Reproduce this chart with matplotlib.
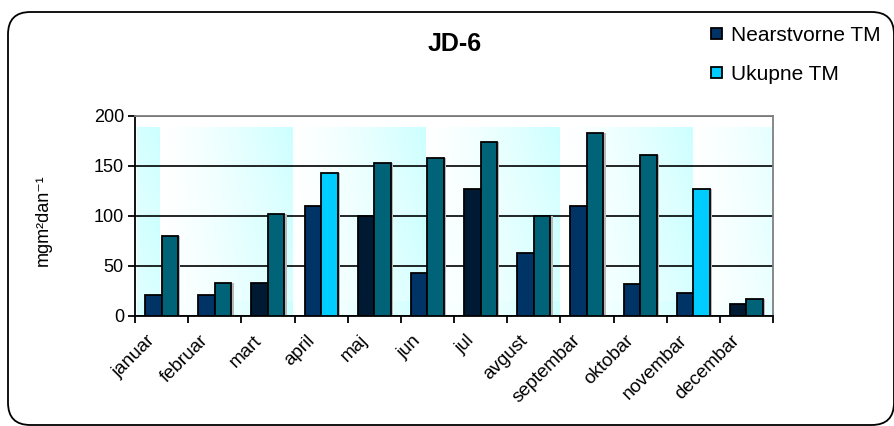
import numpy as np
import matplotlib.pyplot as plt
import matplotlib.transforms as mtransforms
from matplotlib.patches import FancyBboxPatch, Patch

plt.rcParams['font.family'] = ['Liberation Sans', 'DejaVu Sans']

meseci = ['januar', 'februar', 'mart', 'april', 'maj', 'jun', 'jul',
          'avgust', 'septembar', 'oktobar', 'novembar', 'decembar']
nearstvorne = [21, 21, 33, 110, 100, 43, 127, 63, 110, 32, 23, 12]
ukupne = [80, 33, 102, 143, 153, 158, 174, 100, 183, 161, 127, 17]

# boje stubova (kao u originalnoj Excel tabeli)
NAVY = '#003366'
DARK = '#001a33'
TEAL = '#006377'
CYAN = '#00ccff'
boje1 = [NAVY, NAVY, DARK, NAVY, DARK, NAVY, DARK, NAVY, NAVY, NAVY, NAVY, DARK]
boje2 = [TEAL, TEAL, TEAL, CYAN, TEAL, TEAL, TEAL, TEAL, TEAL, TEAL, CYAN, TEAL]

W, H = 894, 426
fig = plt.figure(figsize=(W / 100, H / 100), dpi=100)

# okvir oko grafikona
okvir = FancyBboxPatch((8 / W, (H - 425) / H), 886 / W, 413 / H,
                       boxstyle='round,pad=0,rounding_size=0.025',
                       transform=fig.transFigure, fc='white', ec='black',
                       lw=1.3, mutation_aspect=W / H, clip_on=False, zorder=-5)
fig.patches.append(okvir)

ax = fig.add_axes([135 / W, (H - 316) / H, 638 / W, 200 / H])
ax.set_xlim(-0.5, 11.5)
ax.set_ylim(0, 200)

# pozadina - tekstura sa gradijentom
xs = np.arange(137, 773) + 0.5
ys = np.arange(116, 316) + 0.5
X, Y = np.meshgrid(xs, ys)
u = ((X - 27) % 133) / 133.0
v = ((Y - 127) % 87) / 87.0
f = np.clip(u ** 1.3 * (1 - 0.25 * v), 0, 1)
f[Y < 127] = 0
bg = np.ones(X.shape + (3,))
bg[..., 0] = 1 - f * (1 - 0.80)
ax.imshow(bg, extent=[-0.5 + 2 / 53.2, 11.5, 0, 200], aspect='auto',
          zorder=0, interpolation='nearest')

ax.grid(axis='y', color='black', lw=1.2, zorder=1)
ax.set_axisbelow(True)

x = np.arange(len(meseci))
bw = 0.31
sh = 0.045
ax.bar(x - bw / 2 + sh, nearstvorne, bw, color='#b8b8b8', zorder=2)
ax.bar(x + bw / 2 + sh, ukupne, bw, color='#b8b8b8', zorder=2)
ax.bar(x - bw / 2, nearstvorne, bw, color=boje1, edgecolor='black', lw=1.3, zorder=3)
ax.bar(x + bw / 2, ukupne, bw, color=boje2, edgecolor='black', lw=1.3, zorder=3)

for s in ['left', 'bottom']:
    ax.spines[s].set_color('black')
    ax.spines[s].set_linewidth(1.3)
for s in ['top', 'right']:
    ax.spines[s].set_color('#808080')
    ax.spines[s].set_linewidth(1.3)

ax.set_yticks([0, 50, 100, 150, 200])
ax.tick_params(axis='y', length=5, width=1.3, labelsize=13, pad=3)
ax.set_xticks(np.arange(-0.5, 12, 1))
ax.set_xticklabels([])
ax.tick_params(axis='x', which='major', length=5, width=1.3)
ax.set_xticks(x, minor=True)
ax.set_xticklabels(meseci, minor=True, rotation=45, ha='right', va='top',
                   rotation_mode='anchor', fontsize=13.5)
ax.tick_params(axis='x', which='minor', length=0, pad=11.5)
pomak = mtransforms.ScaledTranslation(-15 / 100, 0, fig.dpi_scale_trans)
for lbl in ax.get_xticklabels(minor=True):
    lbl.set_transform(lbl.get_transform() + pomak)

ax.set_ylabel('mgm²dan⁻¹', fontsize=13)
ax.yaxis.set_label_coords((52 - 135) / 638, 0.48)

fig.text(455 / W, 1 - 44 / H, 'JD-6', ha='center', va='center',
         fontsize=18, fontweight='bold')

rucke = [Patch(fc=NAVY, ec='black', lw=1.3), Patch(fc=CYAN, ec='black', lw=1.3)]
fig.legend(rucke, ['Nearstvorne TM', 'Ukupne TM'], loc='upper left',
           bbox_to_anchor=(692 / W, 1 - 7 / H), frameon=False, fontsize=15,
           handlelength=0.55, handleheight=0.45, handletextpad=0.4,
           labelspacing=0.96)

fig.savefig('out.png', dpi=100)
